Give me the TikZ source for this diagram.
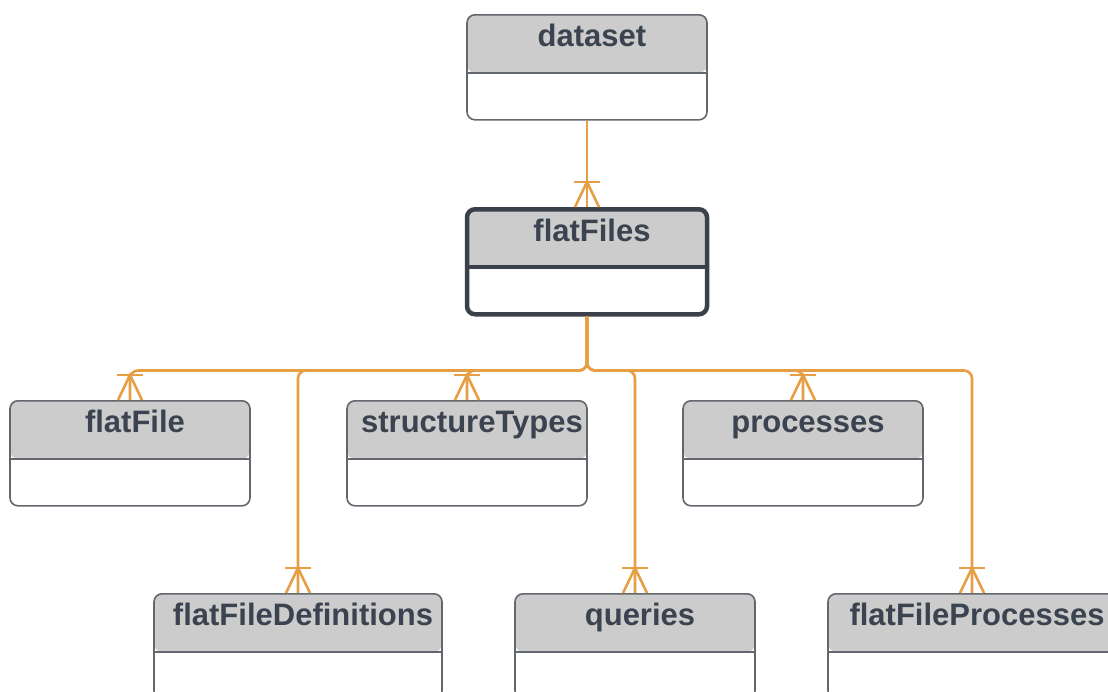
\documentclass[tikz,border=0pt]{standalone}
\usepackage{fontspec}
\setmainfont{Liberation Sans}
\usetikzlibrary{calc}

\definecolor{relorange}{HTML}{E69F45}
\definecolor{hdrgray}{HTML}{CCCCCC}
\definecolor{boxline}{HTML}{62676E}
\definecolor{darkline}{HTML}{3A414A}
\definecolor{titletext}{HTML}{3B4350}

\begin{document}
\begin{tikzpicture}[
    x=1pt, y=-1pt, % work in pixels of the sketch, y going down
    divider/.style={draw=boxline, line width=1.6pt}, % line under the header
    entity/.style={draw=boxline, line width=1.6pt, rounded corners=8pt, fill=white,
        minimum width=240pt, inner xsep=0pt, inner ysep=0pt,
        text height=32pt, text depth=73pt, text=titletext,
        font=\fontsize{31}{36}\selectfont\bfseries,
        execute at begin node={\hspace*{10pt}},
        path picture={
            \fill[hdrgray] (path picture bounding box.north west) rectangle ([yshift=-58pt]path picture bounding box.north east);
            \draw[divider] ([yshift=-58pt]path picture bounding box.north west) -- ([yshift=-58pt]path picture bounding box.north east);
        }},
    wideentity/.style={entity, minimum width=288pt},
    keyentity/.style={entity, draw=darkline, line width=4.5pt,
        divider/.style={draw=darkline, line width=4pt}},
    rel/.style={draw=relorange, line width=2.6pt, rounded corners=8pt},
    crowfoot/.pic={
        \draw[rel, rounded corners=0pt] (-12,0) -- (0,-25) -- (12,0); % prongs
        \draw[rel] (-13,-25) -- (13,-25); % bar
    }
]
    \useasboundingbox (0,0) rectangle (1108,691);

    % Top of the tree
    \node[entity, anchor=north] (dataset) at (587,14) {dataset};
    \node[keyentity, anchor=north] (flatFiles) at (587,207) {flatFiles};

    % First row of children
    \node[entity, anchor=north] (flatFile) at (130,400) {flatFile};
    \node[entity, anchor=north] (structureTypes) at (467,400) {structureTypes};
    \node[entity, anchor=north] (processes) at (803,400) {processes};

    % Second row of children (cut by the lower edge)
    \node[wideentity, anchor=north] (flatFileDefinitions) at (298,593) {flatFileDefinitions};
    \node[entity, anchor=north] (queries) at (635,593) {queries};
    \node[wideentity, anchor=north] (flatFileProcesses) at (972,593) {flatFileProcesses};

    % Branch point under flatFiles
    \coordinate (bus) at ($(flatFiles.south)+(0,54)$);

    % Relations
    \draw[rel] (dataset.south) -- (flatFiles.north);
    \draw[rel] (flatFiles.south) -- (bus) -| (flatFile.north);
    \draw[rel] (flatFiles.south) -- (bus) -| (flatFileDefinitions.north);
    \draw[rel] (flatFiles.south) -- (bus) -| (structureTypes.north);
    \draw[rel] (flatFiles.south) -- (bus) -| (queries.north);
    \draw[rel] (flatFiles.south) -- (bus) -| (processes.north);
    \draw[rel] (flatFiles.south) -- (bus) -| (flatFileProcesses.north);

    % Many ends
    \pic at (flatFiles.north) {crowfoot};
    \pic at (flatFile.north) {crowfoot};
    \pic at (structureTypes.north) {crowfoot};
    \pic at (processes.north) {crowfoot};
    \pic at (flatFileDefinitions.north) {crowfoot};
    \pic at (queries.north) {crowfoot};
    \pic at (flatFileProcesses.north) {crowfoot};
\end{tikzpicture}
\end{document}
